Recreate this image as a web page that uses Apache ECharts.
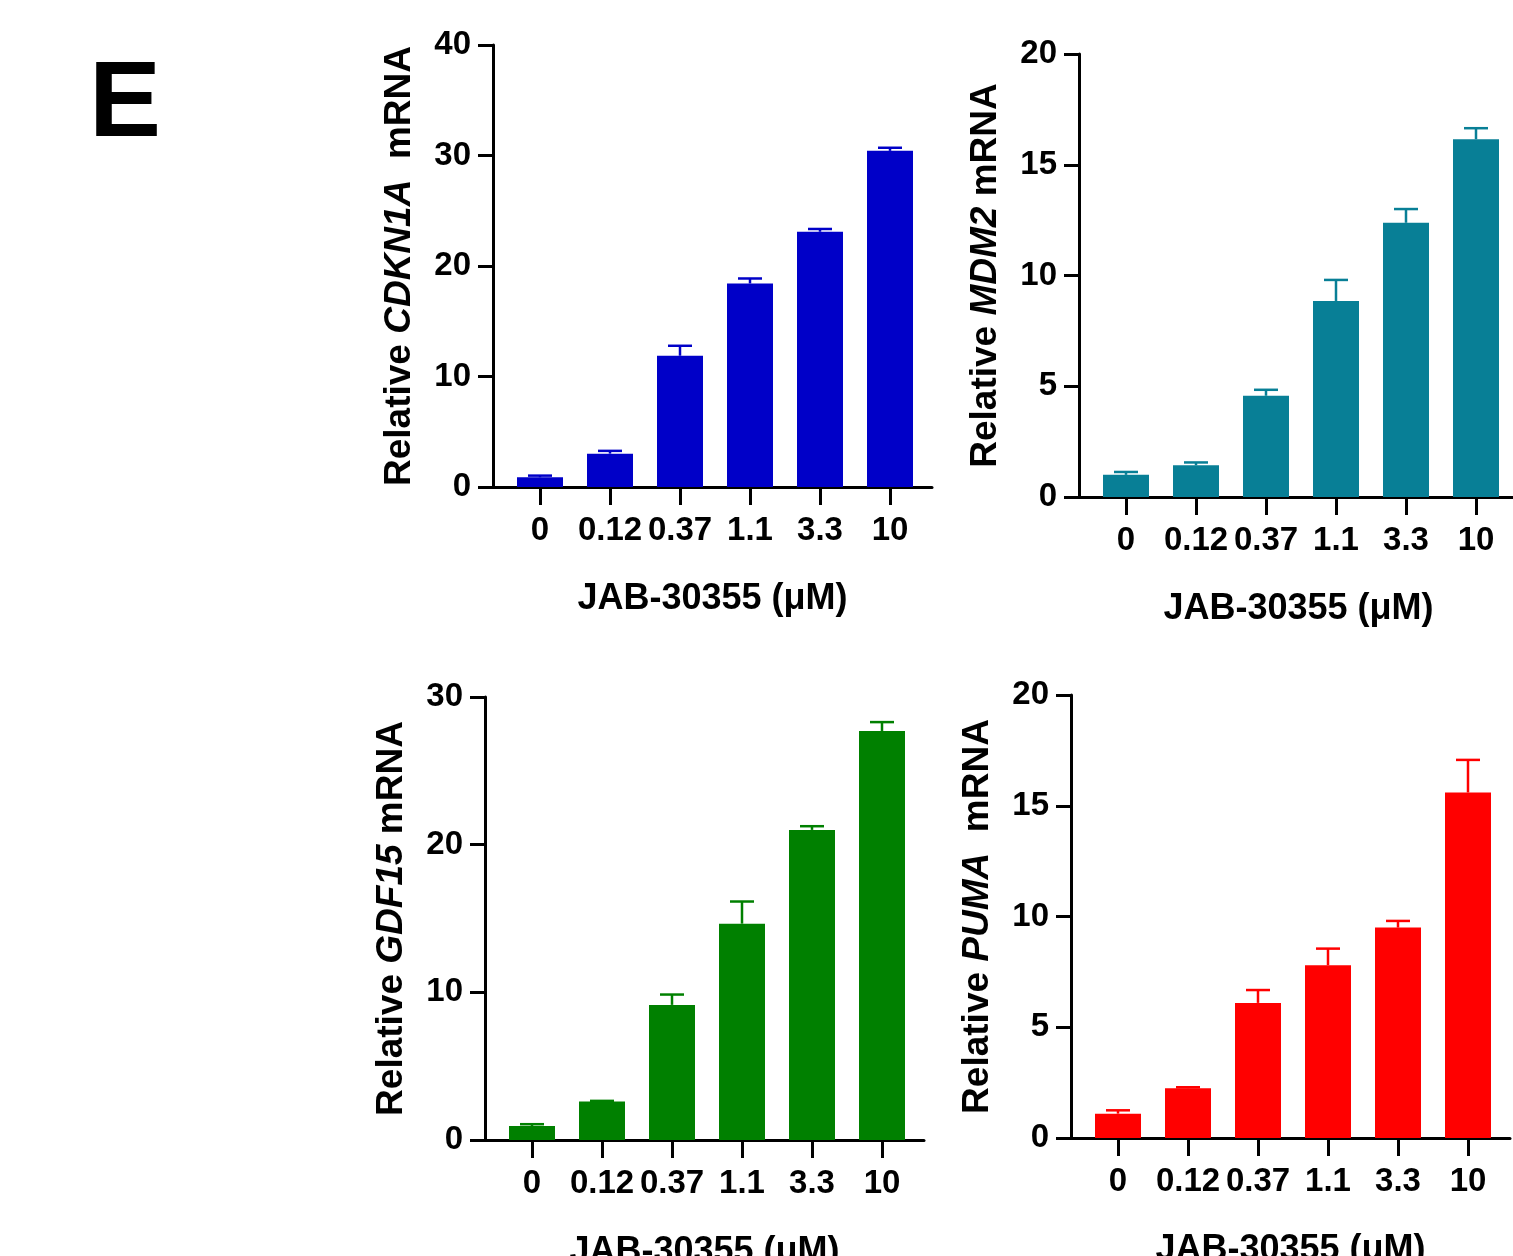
<!DOCTYPE html>
<html><head><meta charset="utf-8">
<script src="https://cdn.jsdelivr.net/npm/echarts@6/dist/echarts.min.js"></script>
<style>html,body{margin:0;padding:0;background:#fff}#c{width:1513px;height:1256px}</style>
</head><body><div id="c"></div>
<script>
// ---- data ----
const categories = ['0', '0.12', '0.37', '1.1', '3.3', '10'];
const xTitle = 'JAB-30355 (μM)';

const cdkn1aMean = [0.88, 3.02, 11.88, 18.42, 23.1, 30.42];
const cdkn1aErr  = [0.15, 0.25, 0.9, 0.45, 0.25, 0.28];

const mdm2Mean = [1.0, 1.43, 4.57, 8.85, 12.38, 16.15];
const mdm2Err  = [0.13, 0.13, 0.27, 0.95, 0.62, 0.5];

const gdf15Mean = [0.95, 2.6, 9.15, 14.65, 21.0, 27.7];
const gdf15Err  = [0.12, 0.05, 0.7, 1.5, 0.25, 0.6];

const pumaMean = [1.1, 2.25, 6.1, 7.8, 9.5, 15.6];
const pumaErr  = [0.15, 0.04, 0.58, 0.75, 0.3, 1.47];

const yMaxes = [40, 20, 30, 20];
const ySteps = [10, 5, 10, 5];
const genes = ['CDKN1A', 'MDM2', 'GDF15', 'PUMA'];
const geneGaps = ['  ', ' ', ' ', '  '];

// ---- layout / style ----
const FONT = 'Liberation Sans, Arial, sans-serif';
const panels = [
  {left: 493, top: 45, height: 442, color: '#0000C8', mean: cdkn1aMean, err: cdkn1aErr},
  {left: 1079, top: 54, height: 443, color: '#087F96', mean: mdm2Mean, err: mdm2Err},
  {left: 485, top: 697, height: 443, color: '#008000', mean: gdf15Mean, err: gdf15Err},
  {left: 1071, top: 695, height: 443, color: '#FF0000', mean: pumaMean, err: pumaErr}
];
const PX_PER_CAT = 70, OFFSET = 47, AXIS_W = 439;
const xMin = -OFFSET / PX_PER_CAT, xMax = xMin + AXIS_W / PX_PER_CAT;
const catIdx = categories.map((c, i) => i);

const grid = [], xAxis = [], yAxis = [], series = [];
panels.forEach((p, k) => {
  grid.push({left: p.left, top: p.top, width: AXIS_W, height: p.height,
    containLabel: false, outerBoundsMode: 'none'});
  xAxis.push({
    type: 'value', gridIndex: k, min: xMin, max: xMax,
    axisLine: {show: true, onZero: false, lineStyle: {color: '#000', width: 3}},
    axisTick: {show: true, length: 18, customValues: catIdx, lineStyle: {color: '#000', width: 3}},
    axisLabel: {show: true, customValues: catIdx, margin: 27, color: '#000',
      fontFamily: FONT, fontWeight: 'bold', fontSize: 33,
      formatter: v => categories[Math.round(v)]},
    splitLine: {show: false},
    name: xTitle, nameLocation: 'middle', nameGap: 94,
    nameTextStyle: {color: '#000', fontFamily: FONT, fontWeight: 'bold', fontSize: 36}
  });
  yAxis.push({
    type: 'value', gridIndex: k, min: 0, max: yMaxes[k], interval: ySteps[k],
    axisLine: {show: true, onZero: false, lineStyle: {color: '#000', width: 3}},
    axisTick: {show: true, length: 15, lineStyle: {color: '#000', width: 3}},
    axisLabel: {margin: 22, color: '#000', fontFamily: FONT, fontWeight: 'bold', fontSize: 33},
    splitLine: {show: false},
    name: '{n|Relative }{i|' + genes[k] + '}{n|' + geneGaps[k] + 'mRNA}',
    nameLocation: 'middle', nameGap: 75,
    nameTextStyle: {
      color: '#000', fontFamily: FONT, fontWeight: 'bold', fontSize: 37,
      rich: {
        n: {color: '#000', fontFamily: FONT, fontWeight: 'bold', fontSize: 37},
        i: {color: '#000', fontFamily: FONT, fontWeight: 'bold', fontStyle: 'italic', fontSize: 37}
      }
    }
  });
  series.push({
    type: 'bar', xAxisIndex: k, yAxisIndex: k, barWidth: 46,
    itemStyle: {color: p.color},
    data: p.mean.map((m, i) => [i, m]),
    silent: true
  });
  const col = p.color;
  series.push({
    type: 'custom', xAxisIndex: k, yAxisIndex: k, z: 5, silent: true,
    data: p.mean.map((m, i) => [i, m, p.err[i]]),
    encode: {x: 0, y: 1},
    renderItem: (params, api) => {
      const x = api.value(0), m = api.value(1), e = api.value(2);
      const a = api.coord([x, m]), b = api.coord([x, m + e]);
      const st = {stroke: col, lineWidth: 2.5};
      return {type: 'group', children: [
        {type: 'line', shape: {x1: a[0], y1: a[1], x2: b[0], y2: b[1]}, style: st},
        {type: 'line', shape: {x1: b[0] - 12, y1: b[1], x2: b[0] + 12, y2: b[1]}, style: st}
      ]};
    }
  });
});

const chart = echarts.init(document.getElementById('c'), null, {renderer: 'canvas'});
chart.setOption({
  animation: false,
  backgroundColor: '#fff',
  grid, xAxis, yAxis, series,
  graphic: [{type: 'text', left: 89, top: 52,
    style: {text: 'E', fill: '#000', font: 'bold 108px ' + FONT}}]
});
</script></body></html>
